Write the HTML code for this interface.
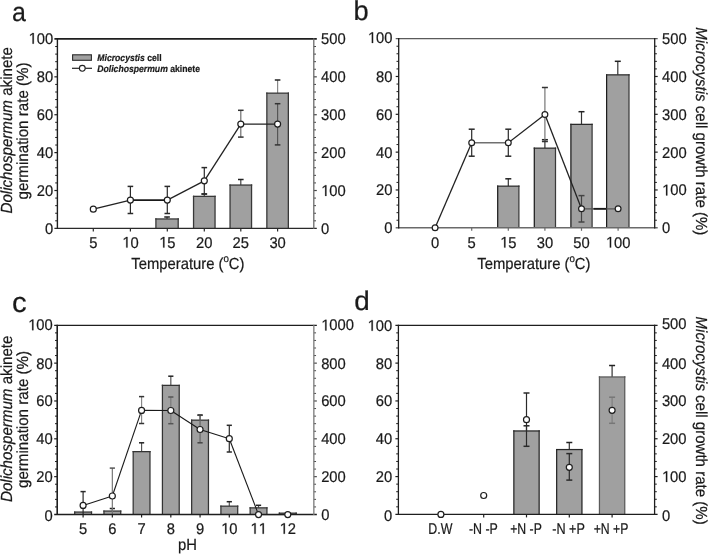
<!DOCTYPE html>
<html><head><meta charset="utf-8"><style>html,body{margin:0;padding:0;background:#fff;}svg{display:block;will-change:transform;text-rendering:geometricPrecision;}text{stroke:#1a1a1a;stroke-width:0.22px;paint-order:fill;}.h{fill-opacity:0;stroke-opacity:0;}</style></head><body>
<svg width="708" height="554" viewBox="0 0 708 554" font-family="Liberation Sans, sans-serif" fill="#1a1a1a">
<rect width="708" height="554" fill="#fff"/>
<line x1="55.2" y1="220.82" x2="57.4" y2="220.82" stroke="#1e1e1e" stroke-width="1.0"/>
<line x1="313.8" y1="220.82" x2="316" y2="220.82" stroke="#444" stroke-width="1.0"/>
<line x1="55.2" y1="213.24" x2="57.4" y2="213.24" stroke="#1e1e1e" stroke-width="1.0"/>
<line x1="313.8" y1="213.24" x2="316" y2="213.24" stroke="#444" stroke-width="1.0"/>
<line x1="55.2" y1="205.67" x2="57.4" y2="205.67" stroke="#1e1e1e" stroke-width="1.0"/>
<line x1="313.8" y1="205.67" x2="316" y2="205.67" stroke="#444" stroke-width="1.0"/>
<line x1="55.2" y1="198.09" x2="57.4" y2="198.09" stroke="#1e1e1e" stroke-width="1.0"/>
<line x1="313.8" y1="198.09" x2="316" y2="198.09" stroke="#444" stroke-width="1.0"/>
<line x1="54.4" y1="190.51" x2="57.4" y2="190.51" stroke="#1e1e1e" stroke-width="1.2"/>
<line x1="313.8" y1="190.51" x2="316.8" y2="190.51" stroke="#444" stroke-width="1.2"/>
<line x1="55.2" y1="182.93" x2="57.4" y2="182.93" stroke="#1e1e1e" stroke-width="1.0"/>
<line x1="313.8" y1="182.93" x2="316" y2="182.93" stroke="#444" stroke-width="1.0"/>
<line x1="55.2" y1="175.35" x2="57.4" y2="175.35" stroke="#1e1e1e" stroke-width="1.0"/>
<line x1="313.8" y1="175.35" x2="316" y2="175.35" stroke="#444" stroke-width="1.0"/>
<line x1="55.2" y1="167.78" x2="57.4" y2="167.78" stroke="#1e1e1e" stroke-width="1.0"/>
<line x1="313.8" y1="167.78" x2="316" y2="167.78" stroke="#444" stroke-width="1.0"/>
<line x1="55.2" y1="160.2" x2="57.4" y2="160.2" stroke="#1e1e1e" stroke-width="1.0"/>
<line x1="313.8" y1="160.2" x2="316" y2="160.2" stroke="#444" stroke-width="1.0"/>
<line x1="54.4" y1="152.62" x2="57.4" y2="152.62" stroke="#1e1e1e" stroke-width="1.2"/>
<line x1="313.8" y1="152.62" x2="316.8" y2="152.62" stroke="#444" stroke-width="1.2"/>
<line x1="55.2" y1="145.04" x2="57.4" y2="145.04" stroke="#1e1e1e" stroke-width="1.0"/>
<line x1="313.8" y1="145.04" x2="316" y2="145.04" stroke="#444" stroke-width="1.0"/>
<line x1="55.2" y1="137.46" x2="57.4" y2="137.46" stroke="#1e1e1e" stroke-width="1.0"/>
<line x1="313.8" y1="137.46" x2="316" y2="137.46" stroke="#444" stroke-width="1.0"/>
<line x1="55.2" y1="129.89" x2="57.4" y2="129.89" stroke="#1e1e1e" stroke-width="1.0"/>
<line x1="313.8" y1="129.89" x2="316" y2="129.89" stroke="#444" stroke-width="1.0"/>
<line x1="55.2" y1="122.31" x2="57.4" y2="122.31" stroke="#1e1e1e" stroke-width="1.0"/>
<line x1="313.8" y1="122.31" x2="316" y2="122.31" stroke="#444" stroke-width="1.0"/>
<line x1="54.4" y1="114.73" x2="57.4" y2="114.73" stroke="#1e1e1e" stroke-width="1.2"/>
<line x1="313.8" y1="114.73" x2="316.8" y2="114.73" stroke="#444" stroke-width="1.2"/>
<line x1="55.2" y1="107.15" x2="57.4" y2="107.15" stroke="#1e1e1e" stroke-width="1.0"/>
<line x1="313.8" y1="107.15" x2="316" y2="107.15" stroke="#444" stroke-width="1.0"/>
<line x1="55.2" y1="99.57" x2="57.4" y2="99.57" stroke="#1e1e1e" stroke-width="1.0"/>
<line x1="313.8" y1="99.57" x2="316" y2="99.57" stroke="#444" stroke-width="1.0"/>
<line x1="55.2" y1="92" x2="57.4" y2="92" stroke="#1e1e1e" stroke-width="1.0"/>
<line x1="313.8" y1="92" x2="316" y2="92" stroke="#444" stroke-width="1.0"/>
<line x1="55.2" y1="84.42" x2="57.4" y2="84.42" stroke="#1e1e1e" stroke-width="1.0"/>
<line x1="313.8" y1="84.42" x2="316" y2="84.42" stroke="#444" stroke-width="1.0"/>
<line x1="54.4" y1="76.84" x2="57.4" y2="76.84" stroke="#1e1e1e" stroke-width="1.2"/>
<line x1="313.8" y1="76.84" x2="316.8" y2="76.84" stroke="#444" stroke-width="1.2"/>
<line x1="55.2" y1="69.26" x2="57.4" y2="69.26" stroke="#1e1e1e" stroke-width="1.0"/>
<line x1="313.8" y1="69.26" x2="316" y2="69.26" stroke="#444" stroke-width="1.0"/>
<line x1="55.2" y1="61.68" x2="57.4" y2="61.68" stroke="#1e1e1e" stroke-width="1.0"/>
<line x1="313.8" y1="61.68" x2="316" y2="61.68" stroke="#444" stroke-width="1.0"/>
<line x1="55.2" y1="54.11" x2="57.4" y2="54.11" stroke="#1e1e1e" stroke-width="1.0"/>
<line x1="313.8" y1="54.11" x2="316" y2="54.11" stroke="#444" stroke-width="1.0"/>
<line x1="55.2" y1="46.53" x2="57.4" y2="46.53" stroke="#1e1e1e" stroke-width="1.0"/>
<line x1="313.8" y1="46.53" x2="316" y2="46.53" stroke="#444" stroke-width="1.0"/>
<line x1="167.05" y1="217" x2="167.05" y2="218.95" stroke="#444" stroke-width="1.2"/>
<line x1="164.25" y1="217" x2="169.85" y2="217" stroke="#222" stroke-width="1.5"/>
<rect x="155.9" y="218.95" width="22.3" height="9.45" fill="#a0a0a0"/>
<line x1="155.9" y1="218.3" x2="155.9" y2="228.4" stroke="#383838" stroke-width="1.3"/>
<line x1="178.2" y1="218.3" x2="178.2" y2="228.4" stroke="#383838" stroke-width="1.3"/>
<line x1="155.25" y1="218.95" x2="178.85" y2="218.95" stroke="#383838" stroke-width="1.3"/>
<line x1="204.3" y1="194" x2="204.3" y2="196.35" stroke="#444" stroke-width="1.2"/>
<line x1="201.5" y1="194" x2="207.1" y2="194" stroke="#222" stroke-width="1.5"/>
<rect x="193.55" y="196.35" width="21.5" height="32.05" fill="#a0a0a0"/>
<line x1="193.55" y1="195.7" x2="193.55" y2="228.4" stroke="#383838" stroke-width="1.3"/>
<line x1="215.05" y1="195.7" x2="215.05" y2="228.4" stroke="#383838" stroke-width="1.3"/>
<line x1="192.9" y1="196.35" x2="215.7" y2="196.35" stroke="#383838" stroke-width="1.3"/>
<line x1="240.8" y1="179.5" x2="240.8" y2="185.05" stroke="#444" stroke-width="1.2"/>
<line x1="238" y1="179.5" x2="243.6" y2="179.5" stroke="#222" stroke-width="1.5"/>
<rect x="230.05" y="185.05" width="21.5" height="43.35" fill="#a0a0a0"/>
<line x1="230.05" y1="184.4" x2="230.05" y2="228.4" stroke="#383838" stroke-width="1.3"/>
<line x1="251.55" y1="184.4" x2="251.55" y2="228.4" stroke="#383838" stroke-width="1.3"/>
<line x1="229.4" y1="185.05" x2="252.2" y2="185.05" stroke="#383838" stroke-width="1.3"/>
<line x1="277.6" y1="80" x2="277.6" y2="93.15" stroke="#888" stroke-width="1.2"/>
<line x1="274.8" y1="80" x2="280.4" y2="80" stroke="#222" stroke-width="1.5"/>
<rect x="266.85" y="93.15" width="21.5" height="135.25" fill="#a0a0a0"/>
<line x1="266.85" y1="92.5" x2="266.85" y2="228.4" stroke="#383838" stroke-width="1.3"/>
<line x1="288.35" y1="92.5" x2="288.35" y2="228.4" stroke="#383838" stroke-width="1.3"/>
<line x1="266.2" y1="93.15" x2="289" y2="93.15" stroke="#383838" stroke-width="1.3"/>
<line x1="130.4" y1="186.4" x2="130.4" y2="200.1" stroke="#2a2a2a" stroke-width="1.2"/>
<line x1="127.6" y1="186.4" x2="133.2" y2="186.4" stroke="#2a2a2a" stroke-width="1.5"/>
<line x1="130.4" y1="200.1" x2="130.4" y2="213.5" stroke="#2a2a2a" stroke-width="1.2"/>
<line x1="127.6" y1="213.5" x2="133.2" y2="213.5" stroke="#2a2a2a" stroke-width="1.5"/>
<line x1="167.3" y1="186.4" x2="167.3" y2="200.1" stroke="#2a2a2a" stroke-width="1.2"/>
<line x1="164.5" y1="186.4" x2="170.1" y2="186.4" stroke="#2a2a2a" stroke-width="1.5"/>
<line x1="167.3" y1="200.1" x2="167.3" y2="213.5" stroke="#2a2a2a" stroke-width="1.2"/>
<line x1="164.5" y1="213.5" x2="170.1" y2="213.5" stroke="#2a2a2a" stroke-width="1.5"/>
<line x1="204.3" y1="167.6" x2="204.3" y2="180.8" stroke="#2a2a2a" stroke-width="1.2"/>
<line x1="201.5" y1="167.6" x2="207.1" y2="167.6" stroke="#2a2a2a" stroke-width="1.5"/>
<line x1="204.3" y1="180.8" x2="204.3" y2="194" stroke="#2a2a2a" stroke-width="1.2"/>
<line x1="201.5" y1="194" x2="207.1" y2="194" stroke="#2a2a2a" stroke-width="1.5"/>
<line x1="240.8" y1="110.3" x2="240.8" y2="124.1" stroke="#6e6e6e" stroke-width="1.2"/>
<line x1="238" y1="110.3" x2="243.6" y2="110.3" stroke="#333" stroke-width="1.5"/>
<line x1="240.8" y1="124.1" x2="240.8" y2="137.1" stroke="#6e6e6e" stroke-width="1.2"/>
<line x1="238" y1="137.1" x2="243.6" y2="137.1" stroke="#333" stroke-width="1.5"/>
<line x1="277.6" y1="103.7" x2="277.6" y2="124.1" stroke="#555" stroke-width="1.2"/>
<line x1="274.8" y1="103.7" x2="280.4" y2="103.7" stroke="#333" stroke-width="1.5"/>
<line x1="277.6" y1="124.1" x2="277.6" y2="144.9" stroke="#555" stroke-width="1.2"/>
<line x1="274.8" y1="144.9" x2="280.4" y2="144.9" stroke="#333" stroke-width="1.5"/>
<line x1="93.3" y1="209.2" x2="130.4" y2="200.1" stroke="#222" stroke-width="1.3"/>
<line x1="130.4" y1="200.1" x2="167.3" y2="200.1" stroke="#1a1a1a" stroke-width="1.6"/>
<line x1="167.3" y1="200.1" x2="204.3" y2="180.8" stroke="#222" stroke-width="1.3"/>
<line x1="204.3" y1="180.8" x2="240.8" y2="124.1" stroke="#222" stroke-width="1.3"/>
<line x1="240.8" y1="124.1" x2="277.6" y2="124.1" stroke="#222" stroke-width="1.3"/>
<line x1="54.4" y1="38.95" x2="316.8" y2="38.95" stroke="#1e1e1e" stroke-width="1.8"/>
<line x1="54.4" y1="228.4" x2="316.8" y2="228.4" stroke="#2a2a2a" stroke-width="1.4"/>
<line x1="57.4" y1="38.35" x2="57.4" y2="229" stroke="#1e1e1e" stroke-width="1.4"/>
<line x1="313.8" y1="38.35" x2="313.8" y2="229" stroke="#6a6a6a" stroke-width="1.3"/>
<line x1="93.3" y1="228.4" x2="93.3" y2="231.4" stroke="#2a2a2a" stroke-width="1.2"/>
<line x1="130.4" y1="228.4" x2="130.4" y2="231.4" stroke="#2a2a2a" stroke-width="1.2"/>
<line x1="167.3" y1="228.4" x2="167.3" y2="231.4" stroke="#2a2a2a" stroke-width="1.2"/>
<line x1="204.3" y1="228.4" x2="204.3" y2="231.4" stroke="#2a2a2a" stroke-width="1.2"/>
<line x1="240.8" y1="228.4" x2="240.8" y2="231.4" stroke="#2a2a2a" stroke-width="1.2"/>
<line x1="277.6" y1="228.4" x2="277.6" y2="231.4" stroke="#2a2a2a" stroke-width="1.2"/>
<circle cx="93.3" cy="209.2" r="3.0" fill="#fff" stroke="#1e1e1e" stroke-width="1.2"/>
<circle cx="130.4" cy="200.1" r="3.0" fill="#fff" stroke="#1e1e1e" stroke-width="1.2"/>
<circle cx="167.3" cy="200.1" r="3.0" fill="#fff" stroke="#1e1e1e" stroke-width="1.2"/>
<circle cx="204.3" cy="180.8" r="3.0" fill="#fff" stroke="#1e1e1e" stroke-width="1.2"/>
<circle cx="240.8" cy="124.1" r="3.0" fill="#fff" stroke="#1e1e1e" stroke-width="1.2"/>
<circle cx="277.6" cy="124.1" r="3.0" fill="#fff" stroke="#1e1e1e" stroke-width="1.2"/>
<text transform="translate(53.1,233.83) scale(0.952,1)" font-size="15.5" text-anchor="end" >0</text>
<text transform="translate(321.1,233.83) scale(0.952,1)" font-size="15.5" text-anchor="start" >0</text>
<text transform="translate(53.1,195.94) scale(0.952,1)" font-size="15.5" text-anchor="end" >20</text>
<text transform="translate(321.1,195.94) scale(0.952,1)" font-size="15.5"><tspan class="h">1</tspan>00</text>
<path d="M560,0L560,1237L223,1010L223,1180L575,1409L741,1409L741,0Z" stroke="#1a1a1a" stroke-width="29.1" transform="translate(321.1,195.94) scale(0.007205,-0.007568)"/>
<text transform="translate(53.1,158.05) scale(0.952,1)" font-size="15.5" text-anchor="end" >40</text>
<text transform="translate(321.1,158.05) scale(0.952,1)" font-size="15.5" text-anchor="start" >200</text>
<text transform="translate(53.1,120.16) scale(0.952,1)" font-size="15.5" text-anchor="end" >60</text>
<text transform="translate(321.1,120.16) scale(0.952,1)" font-size="15.5" text-anchor="start" >300</text>
<text transform="translate(53.1,82.27) scale(0.952,1)" font-size="15.5" text-anchor="end" >80</text>
<text transform="translate(321.1,82.27) scale(0.952,1)" font-size="15.5" text-anchor="start" >400</text>
<text transform="translate(28.48,43.68) scale(0.952,1)" font-size="15.5"><tspan class="h">1</tspan>00</text>
<path d="M560,0L560,1237L223,1010L223,1180L575,1409L741,1409L741,0Z" stroke="#1a1a1a" stroke-width="29.1" transform="translate(28.48,43.68) scale(0.007205,-0.007568)"/>
<text transform="translate(321.1,43.68) scale(0.952,1)" font-size="15.5" text-anchor="start" >500</text>
<text transform="translate(93.3,247.6) scale(0.952,1)" font-size="15.5" text-anchor="middle" >5</text>
<text transform="translate(122.19,247.6) scale(0.952,1)" font-size="15.5"><tspan class="h">1</tspan>0</text>
<path d="M560,0L560,1237L223,1010L223,1180L575,1409L741,1409L741,0Z" stroke="#1a1a1a" stroke-width="29.1" transform="translate(122.19,247.6) scale(0.007205,-0.007568)"/>
<text transform="translate(159.09,247.6) scale(0.952,1)" font-size="15.5"><tspan class="h">1</tspan>5</text>
<path d="M560,0L560,1237L223,1010L223,1180L575,1409L741,1409L741,0Z" stroke="#1a1a1a" stroke-width="29.1" transform="translate(159.09,247.6) scale(0.007205,-0.007568)"/>
<text transform="translate(204.3,247.6) scale(0.952,1)" font-size="15.5" text-anchor="middle" >20</text>
<text transform="translate(240.8,247.6) scale(0.952,1)" font-size="15.5" text-anchor="middle" >25</text>
<text transform="translate(277.6,247.6) scale(0.952,1)" font-size="15.5" text-anchor="middle" >30</text>
<line x1="396.5" y1="220.23" x2="398.7" y2="220.23" stroke="#1e1e1e" stroke-width="1.0"/>
<line x1="654.7" y1="220.23" x2="656.9" y2="220.23" stroke="#1e1e1e" stroke-width="1.0"/>
<line x1="396.5" y1="212.67" x2="398.7" y2="212.67" stroke="#1e1e1e" stroke-width="1.0"/>
<line x1="654.7" y1="212.67" x2="656.9" y2="212.67" stroke="#1e1e1e" stroke-width="1.0"/>
<line x1="396.5" y1="205.1" x2="398.7" y2="205.1" stroke="#1e1e1e" stroke-width="1.0"/>
<line x1="654.7" y1="205.1" x2="656.9" y2="205.1" stroke="#1e1e1e" stroke-width="1.0"/>
<line x1="396.5" y1="197.54" x2="398.7" y2="197.54" stroke="#1e1e1e" stroke-width="1.0"/>
<line x1="654.7" y1="197.54" x2="656.9" y2="197.54" stroke="#1e1e1e" stroke-width="1.0"/>
<line x1="395.7" y1="189.97" x2="398.7" y2="189.97" stroke="#1e1e1e" stroke-width="1.2"/>
<line x1="654.7" y1="189.97" x2="657.7" y2="189.97" stroke="#1e1e1e" stroke-width="1.2"/>
<line x1="396.5" y1="182.4" x2="398.7" y2="182.4" stroke="#1e1e1e" stroke-width="1.0"/>
<line x1="654.7" y1="182.4" x2="656.9" y2="182.4" stroke="#1e1e1e" stroke-width="1.0"/>
<line x1="396.5" y1="174.84" x2="398.7" y2="174.84" stroke="#1e1e1e" stroke-width="1.0"/>
<line x1="654.7" y1="174.84" x2="656.9" y2="174.84" stroke="#1e1e1e" stroke-width="1.0"/>
<line x1="396.5" y1="167.27" x2="398.7" y2="167.27" stroke="#1e1e1e" stroke-width="1.0"/>
<line x1="654.7" y1="167.27" x2="656.9" y2="167.27" stroke="#1e1e1e" stroke-width="1.0"/>
<line x1="396.5" y1="159.71" x2="398.7" y2="159.71" stroke="#1e1e1e" stroke-width="1.0"/>
<line x1="654.7" y1="159.71" x2="656.9" y2="159.71" stroke="#1e1e1e" stroke-width="1.0"/>
<line x1="395.7" y1="152.14" x2="398.7" y2="152.14" stroke="#1e1e1e" stroke-width="1.2"/>
<line x1="654.7" y1="152.14" x2="657.7" y2="152.14" stroke="#1e1e1e" stroke-width="1.2"/>
<line x1="396.5" y1="144.57" x2="398.7" y2="144.57" stroke="#1e1e1e" stroke-width="1.0"/>
<line x1="654.7" y1="144.57" x2="656.9" y2="144.57" stroke="#1e1e1e" stroke-width="1.0"/>
<line x1="396.5" y1="137.01" x2="398.7" y2="137.01" stroke="#1e1e1e" stroke-width="1.0"/>
<line x1="654.7" y1="137.01" x2="656.9" y2="137.01" stroke="#1e1e1e" stroke-width="1.0"/>
<line x1="396.5" y1="129.44" x2="398.7" y2="129.44" stroke="#1e1e1e" stroke-width="1.0"/>
<line x1="654.7" y1="129.44" x2="656.9" y2="129.44" stroke="#1e1e1e" stroke-width="1.0"/>
<line x1="396.5" y1="121.88" x2="398.7" y2="121.88" stroke="#1e1e1e" stroke-width="1.0"/>
<line x1="654.7" y1="121.88" x2="656.9" y2="121.88" stroke="#1e1e1e" stroke-width="1.0"/>
<line x1="395.7" y1="114.31" x2="398.7" y2="114.31" stroke="#1e1e1e" stroke-width="1.2"/>
<line x1="654.7" y1="114.31" x2="657.7" y2="114.31" stroke="#1e1e1e" stroke-width="1.2"/>
<line x1="396.5" y1="106.74" x2="398.7" y2="106.74" stroke="#1e1e1e" stroke-width="1.0"/>
<line x1="654.7" y1="106.74" x2="656.9" y2="106.74" stroke="#1e1e1e" stroke-width="1.0"/>
<line x1="396.5" y1="99.18" x2="398.7" y2="99.18" stroke="#1e1e1e" stroke-width="1.0"/>
<line x1="654.7" y1="99.18" x2="656.9" y2="99.18" stroke="#1e1e1e" stroke-width="1.0"/>
<line x1="396.5" y1="91.61" x2="398.7" y2="91.61" stroke="#1e1e1e" stroke-width="1.0"/>
<line x1="654.7" y1="91.61" x2="656.9" y2="91.61" stroke="#1e1e1e" stroke-width="1.0"/>
<line x1="396.5" y1="84.05" x2="398.7" y2="84.05" stroke="#1e1e1e" stroke-width="1.0"/>
<line x1="654.7" y1="84.05" x2="656.9" y2="84.05" stroke="#1e1e1e" stroke-width="1.0"/>
<line x1="395.7" y1="76.48" x2="398.7" y2="76.48" stroke="#1e1e1e" stroke-width="1.2"/>
<line x1="654.7" y1="76.48" x2="657.7" y2="76.48" stroke="#1e1e1e" stroke-width="1.2"/>
<line x1="396.5" y1="68.91" x2="398.7" y2="68.91" stroke="#1e1e1e" stroke-width="1.0"/>
<line x1="654.7" y1="68.91" x2="656.9" y2="68.91" stroke="#1e1e1e" stroke-width="1.0"/>
<line x1="396.5" y1="61.35" x2="398.7" y2="61.35" stroke="#1e1e1e" stroke-width="1.0"/>
<line x1="654.7" y1="61.35" x2="656.9" y2="61.35" stroke="#1e1e1e" stroke-width="1.0"/>
<line x1="396.5" y1="53.78" x2="398.7" y2="53.78" stroke="#1e1e1e" stroke-width="1.0"/>
<line x1="654.7" y1="53.78" x2="656.9" y2="53.78" stroke="#1e1e1e" stroke-width="1.0"/>
<line x1="396.5" y1="46.22" x2="398.7" y2="46.22" stroke="#1e1e1e" stroke-width="1.0"/>
<line x1="654.7" y1="46.22" x2="656.9" y2="46.22" stroke="#1e1e1e" stroke-width="1.0"/>
<line x1="508.3" y1="178.8" x2="508.3" y2="186.15" stroke="#333" stroke-width="1.2"/>
<line x1="505.3" y1="178.8" x2="511.3" y2="178.8" stroke="#222" stroke-width="1.5"/>
<rect x="497.7" y="186.15" width="21.2" height="41.65" fill="#a0a0a0"/>
<line x1="497.7" y1="185.53" x2="497.7" y2="227.8" stroke="#1c1c1c" stroke-width="1.25"/>
<line x1="518.9" y1="185.53" x2="518.9" y2="227.8" stroke="#3a3a3a" stroke-width="1.25"/>
<line x1="497.07" y1="186.15" x2="519.52" y2="186.15" stroke="#2a2a2a" stroke-width="1.25"/>
<line x1="544.9" y1="139.7" x2="544.9" y2="148.15" stroke="#333" stroke-width="1.2"/>
<line x1="541.9" y1="139.7" x2="547.9" y2="139.7" stroke="#222" stroke-width="1.5"/>
<rect x="534.3" y="148.15" width="21.2" height="79.65" fill="#a0a0a0"/>
<line x1="534.3" y1="147.53" x2="534.3" y2="227.8" stroke="#1c1c1c" stroke-width="1.25"/>
<line x1="555.5" y1="147.53" x2="555.5" y2="227.8" stroke="#3a3a3a" stroke-width="1.25"/>
<line x1="533.68" y1="148.15" x2="556.13" y2="148.15" stroke="#2a2a2a" stroke-width="1.25"/>
<line x1="581.5" y1="111.7" x2="581.5" y2="124.35" stroke="#333" stroke-width="1.2"/>
<line x1="578.5" y1="111.7" x2="584.5" y2="111.7" stroke="#222" stroke-width="1.5"/>
<rect x="570.9" y="124.35" width="21.2" height="103.45" fill="#a0a0a0"/>
<line x1="570.9" y1="123.73" x2="570.9" y2="227.8" stroke="#1c1c1c" stroke-width="1.25"/>
<line x1="592.1" y1="123.73" x2="592.1" y2="227.8" stroke="#3a3a3a" stroke-width="1.25"/>
<line x1="570.27" y1="124.35" x2="592.73" y2="124.35" stroke="#2a2a2a" stroke-width="1.25"/>
<line x1="617.8" y1="61.3" x2="617.8" y2="74.85" stroke="#333" stroke-width="1.2"/>
<line x1="614.8" y1="61.3" x2="620.8" y2="61.3" stroke="#222" stroke-width="1.5"/>
<rect x="606.6" y="74.85" width="22.4" height="152.95" fill="#a0a0a0"/>
<line x1="606.6" y1="74.23" x2="606.6" y2="227.8" stroke="#1c1c1c" stroke-width="1.25"/>
<line x1="629" y1="74.23" x2="629" y2="227.8" stroke="#3a3a3a" stroke-width="1.25"/>
<line x1="605.97" y1="74.85" x2="629.62" y2="74.85" stroke="#2a2a2a" stroke-width="1.25"/>
<line x1="471.7" y1="129.2" x2="471.7" y2="142.8" stroke="#2a2a2a" stroke-width="1.2"/>
<line x1="468.7" y1="129.2" x2="474.7" y2="129.2" stroke="#2a2a2a" stroke-width="1.5"/>
<line x1="471.7" y1="142.8" x2="471.7" y2="156.2" stroke="#2a2a2a" stroke-width="1.2"/>
<line x1="468.7" y1="156.2" x2="474.7" y2="156.2" stroke="#2a2a2a" stroke-width="1.5"/>
<line x1="508.3" y1="129.2" x2="508.3" y2="142.8" stroke="#2a2a2a" stroke-width="1.2"/>
<line x1="505.3" y1="129.2" x2="511.3" y2="129.2" stroke="#2a2a2a" stroke-width="1.5"/>
<line x1="508.3" y1="142.8" x2="508.3" y2="156.2" stroke="#2a2a2a" stroke-width="1.2"/>
<line x1="505.3" y1="156.2" x2="511.3" y2="156.2" stroke="#2a2a2a" stroke-width="1.5"/>
<line x1="544.9" y1="87.5" x2="544.9" y2="114.5" stroke="#777" stroke-width="1.2"/>
<line x1="541.9" y1="87.5" x2="547.9" y2="87.5" stroke="#333" stroke-width="1.5"/>
<line x1="544.9" y1="114.5" x2="544.9" y2="141.5" stroke="#777" stroke-width="1.2"/>
<line x1="541.9" y1="141.5" x2="547.9" y2="141.5" stroke="#333" stroke-width="1.5"/>
<line x1="581.5" y1="195.6" x2="581.5" y2="208.8" stroke="#444" stroke-width="1.2"/>
<line x1="578.5" y1="195.6" x2="584.5" y2="195.6" stroke="#444" stroke-width="1.5"/>
<line x1="581.5" y1="208.8" x2="581.5" y2="222" stroke="#444" stroke-width="1.2"/>
<line x1="578.5" y1="222" x2="584.5" y2="222" stroke="#444" stroke-width="1.5"/>
<line x1="435.1" y1="227.8" x2="471.7" y2="142.8" stroke="#222" stroke-width="1.3"/>
<line x1="471.7" y1="142.8" x2="508.3" y2="142.8" stroke="#707070" stroke-width="1.4"/>
<line x1="508.3" y1="142.8" x2="544.9" y2="114.5" stroke="#222" stroke-width="1.3"/>
<line x1="544.9" y1="114.5" x2="581.5" y2="208.8" stroke="#222" stroke-width="1.3"/>
<line x1="581.5" y1="208.8" x2="618.1" y2="208.8" stroke="#555" stroke-width="1.3"/>
<line x1="593.5" y1="208.8" x2="606.3" y2="208.8" stroke="#1a1a1a" stroke-width="1.8"/>
<line x1="395.7" y1="38.65" x2="657.7" y2="38.65" stroke="#5a5a5a" stroke-width="1.3"/>
<line x1="395.7" y1="227.8" x2="657.7" y2="227.8" stroke="#6a6a6a" stroke-width="1.6"/>
<line x1="398.7" y1="38.05" x2="398.7" y2="228.4" stroke="#1e1e1e" stroke-width="1.3"/>
<line x1="654.7" y1="38.05" x2="654.7" y2="228.4" stroke="#1e1e1e" stroke-width="1.3"/>
<line x1="435.1" y1="227.8" x2="435.1" y2="230.8" stroke="#6a6a6a" stroke-width="1.2"/>
<line x1="471.7" y1="227.8" x2="471.7" y2="230.8" stroke="#6a6a6a" stroke-width="1.2"/>
<line x1="508.3" y1="227.8" x2="508.3" y2="230.8" stroke="#6a6a6a" stroke-width="1.2"/>
<line x1="544.9" y1="227.8" x2="544.9" y2="230.8" stroke="#6a6a6a" stroke-width="1.2"/>
<line x1="581.5" y1="227.8" x2="581.5" y2="230.8" stroke="#6a6a6a" stroke-width="1.2"/>
<line x1="618.1" y1="227.8" x2="618.1" y2="230.8" stroke="#6a6a6a" stroke-width="1.2"/>
<circle cx="435.1" cy="227.8" r="2.9" fill="#fff" stroke="#1e1e1e" stroke-width="1.2"/>
<circle cx="471.7" cy="142.8" r="2.9" fill="#fff" stroke="#1e1e1e" stroke-width="1.2"/>
<circle cx="508.3" cy="142.8" r="2.9" fill="#fff" stroke="#1e1e1e" stroke-width="1.2"/>
<circle cx="544.9" cy="114.5" r="2.9" fill="#fff" stroke="#1e1e1e" stroke-width="1.2"/>
<circle cx="581.5" cy="208.8" r="2.9" fill="#fff" stroke="#1e1e1e" stroke-width="1.2"/>
<circle cx="618.1" cy="208.8" r="2.9" fill="#fff" stroke="#1e1e1e" stroke-width="1.2"/>
<text transform="translate(392.4,233.23) scale(0.952,1)" font-size="15.5" text-anchor="end" >0</text>
<text transform="translate(662,233.23) scale(0.952,1)" font-size="15.5" text-anchor="start" >0</text>
<text transform="translate(392.4,195.4) scale(0.952,1)" font-size="15.5" text-anchor="end" >20</text>
<text transform="translate(662,195.4) scale(0.952,1)" font-size="15.5"><tspan class="h">1</tspan>00</text>
<path d="M560,0L560,1237L223,1010L223,1180L575,1409L741,1409L741,0Z" stroke="#1a1a1a" stroke-width="29.1" transform="translate(662,195.4) scale(0.007205,-0.007568)"/>
<text transform="translate(392.4,157.56) scale(0.952,1)" font-size="15.5" text-anchor="end" >40</text>
<text transform="translate(662,157.56) scale(0.952,1)" font-size="15.5" text-anchor="start" >200</text>
<text transform="translate(392.4,119.74) scale(0.952,1)" font-size="15.5" text-anchor="end" >60</text>
<text transform="translate(662,119.74) scale(0.952,1)" font-size="15.5" text-anchor="start" >300</text>
<text transform="translate(392.4,81.9) scale(0.952,1)" font-size="15.5" text-anchor="end" >80</text>
<text transform="translate(662,81.9) scale(0.952,1)" font-size="15.5" text-anchor="start" >400</text>
<text transform="translate(367.78,42.98) scale(0.952,1)" font-size="15.5"><tspan class="h">1</tspan>00</text>
<path d="M560,0L560,1237L223,1010L223,1180L575,1409L741,1409L741,0Z" stroke="#1a1a1a" stroke-width="29.1" transform="translate(367.78,42.98) scale(0.007205,-0.007568)"/>
<text transform="translate(662,43.68) scale(0.952,1)" font-size="15.5" text-anchor="start" >500</text>
<text transform="translate(435.1,247.6) scale(0.952,1)" font-size="15.5" text-anchor="middle" >0</text>
<text transform="translate(471.7,247.6) scale(0.952,1)" font-size="15.5" text-anchor="middle" >5</text>
<text transform="translate(500.09,247.6) scale(0.952,1)" font-size="15.5"><tspan class="h">1</tspan>5</text>
<path d="M560,0L560,1237L223,1010L223,1180L575,1409L741,1409L741,0Z" stroke="#1a1a1a" stroke-width="29.1" transform="translate(500.09,247.6) scale(0.007205,-0.007568)"/>
<text transform="translate(544.9,247.6) scale(0.952,1)" font-size="15.5" text-anchor="middle" >30</text>
<text transform="translate(581.5,247.6) scale(0.952,1)" font-size="15.5" text-anchor="middle" >50</text>
<text transform="translate(605.79,247.6) scale(0.952,1)" font-size="15.5"><tspan class="h">1</tspan>00</text>
<path d="M560,0L560,1237L223,1010L223,1180L575,1409L741,1409L741,0Z" stroke="#1a1a1a" stroke-width="29.1" transform="translate(605.79,247.6) scale(0.007205,-0.007568)"/>
<line x1="55" y1="506.93" x2="57.2" y2="506.93" stroke="#1e1e1e" stroke-width="1.0"/>
<line x1="313.85" y1="506.93" x2="316.05" y2="506.93" stroke="#4a4a4a" stroke-width="1.0"/>
<line x1="55" y1="499.36" x2="57.2" y2="499.36" stroke="#1e1e1e" stroke-width="1.0"/>
<line x1="313.85" y1="499.36" x2="316.05" y2="499.36" stroke="#4a4a4a" stroke-width="1.0"/>
<line x1="55" y1="491.8" x2="57.2" y2="491.8" stroke="#1e1e1e" stroke-width="1.0"/>
<line x1="313.85" y1="491.8" x2="316.05" y2="491.8" stroke="#4a4a4a" stroke-width="1.0"/>
<line x1="55" y1="484.23" x2="57.2" y2="484.23" stroke="#1e1e1e" stroke-width="1.0"/>
<line x1="313.85" y1="484.23" x2="316.05" y2="484.23" stroke="#4a4a4a" stroke-width="1.0"/>
<line x1="54.2" y1="476.66" x2="57.2" y2="476.66" stroke="#1e1e1e" stroke-width="1.2"/>
<line x1="313.85" y1="476.66" x2="316.85" y2="476.66" stroke="#4a4a4a" stroke-width="1.2"/>
<line x1="55" y1="469.09" x2="57.2" y2="469.09" stroke="#1e1e1e" stroke-width="1.0"/>
<line x1="313.85" y1="469.09" x2="316.05" y2="469.09" stroke="#4a4a4a" stroke-width="1.0"/>
<line x1="55" y1="461.52" x2="57.2" y2="461.52" stroke="#1e1e1e" stroke-width="1.0"/>
<line x1="313.85" y1="461.52" x2="316.05" y2="461.52" stroke="#4a4a4a" stroke-width="1.0"/>
<line x1="55" y1="453.96" x2="57.2" y2="453.96" stroke="#1e1e1e" stroke-width="1.0"/>
<line x1="313.85" y1="453.96" x2="316.05" y2="453.96" stroke="#4a4a4a" stroke-width="1.0"/>
<line x1="55" y1="446.39" x2="57.2" y2="446.39" stroke="#1e1e1e" stroke-width="1.0"/>
<line x1="313.85" y1="446.39" x2="316.05" y2="446.39" stroke="#4a4a4a" stroke-width="1.0"/>
<line x1="54.2" y1="438.82" x2="57.2" y2="438.82" stroke="#1e1e1e" stroke-width="1.2"/>
<line x1="313.85" y1="438.82" x2="316.85" y2="438.82" stroke="#4a4a4a" stroke-width="1.2"/>
<line x1="55" y1="431.25" x2="57.2" y2="431.25" stroke="#1e1e1e" stroke-width="1.0"/>
<line x1="313.85" y1="431.25" x2="316.05" y2="431.25" stroke="#4a4a4a" stroke-width="1.0"/>
<line x1="55" y1="423.68" x2="57.2" y2="423.68" stroke="#1e1e1e" stroke-width="1.0"/>
<line x1="313.85" y1="423.68" x2="316.05" y2="423.68" stroke="#4a4a4a" stroke-width="1.0"/>
<line x1="55" y1="416.12" x2="57.2" y2="416.12" stroke="#1e1e1e" stroke-width="1.0"/>
<line x1="313.85" y1="416.12" x2="316.05" y2="416.12" stroke="#4a4a4a" stroke-width="1.0"/>
<line x1="55" y1="408.55" x2="57.2" y2="408.55" stroke="#1e1e1e" stroke-width="1.0"/>
<line x1="313.85" y1="408.55" x2="316.05" y2="408.55" stroke="#4a4a4a" stroke-width="1.0"/>
<line x1="54.2" y1="400.98" x2="57.2" y2="400.98" stroke="#1e1e1e" stroke-width="1.2"/>
<line x1="313.85" y1="400.98" x2="316.85" y2="400.98" stroke="#4a4a4a" stroke-width="1.2"/>
<line x1="55" y1="393.41" x2="57.2" y2="393.41" stroke="#1e1e1e" stroke-width="1.0"/>
<line x1="313.85" y1="393.41" x2="316.05" y2="393.41" stroke="#4a4a4a" stroke-width="1.0"/>
<line x1="55" y1="385.84" x2="57.2" y2="385.84" stroke="#1e1e1e" stroke-width="1.0"/>
<line x1="313.85" y1="385.84" x2="316.05" y2="385.84" stroke="#4a4a4a" stroke-width="1.0"/>
<line x1="55" y1="378.28" x2="57.2" y2="378.28" stroke="#1e1e1e" stroke-width="1.0"/>
<line x1="313.85" y1="378.28" x2="316.05" y2="378.28" stroke="#4a4a4a" stroke-width="1.0"/>
<line x1="55" y1="370.71" x2="57.2" y2="370.71" stroke="#1e1e1e" stroke-width="1.0"/>
<line x1="313.85" y1="370.71" x2="316.05" y2="370.71" stroke="#4a4a4a" stroke-width="1.0"/>
<line x1="54.2" y1="363.14" x2="57.2" y2="363.14" stroke="#1e1e1e" stroke-width="1.2"/>
<line x1="313.85" y1="363.14" x2="316.85" y2="363.14" stroke="#4a4a4a" stroke-width="1.2"/>
<line x1="55" y1="355.57" x2="57.2" y2="355.57" stroke="#1e1e1e" stroke-width="1.0"/>
<line x1="313.85" y1="355.57" x2="316.05" y2="355.57" stroke="#4a4a4a" stroke-width="1.0"/>
<line x1="55" y1="348" x2="57.2" y2="348" stroke="#1e1e1e" stroke-width="1.0"/>
<line x1="313.85" y1="348" x2="316.05" y2="348" stroke="#4a4a4a" stroke-width="1.0"/>
<line x1="55" y1="340.44" x2="57.2" y2="340.44" stroke="#1e1e1e" stroke-width="1.0"/>
<line x1="313.85" y1="340.44" x2="316.05" y2="340.44" stroke="#4a4a4a" stroke-width="1.0"/>
<line x1="55" y1="332.87" x2="57.2" y2="332.87" stroke="#1e1e1e" stroke-width="1.0"/>
<line x1="313.85" y1="332.87" x2="316.05" y2="332.87" stroke="#4a4a4a" stroke-width="1.0"/>
<rect x="74.7" y="512.05" width="16.8" height="2.45" fill="#a0a0a0"/>
<line x1="74.7" y1="511.42" x2="74.7" y2="514.5" stroke="#333" stroke-width="1.25"/>
<line x1="91.5" y1="511.42" x2="91.5" y2="514.5" stroke="#333" stroke-width="1.25"/>
<line x1="74.07" y1="512.05" x2="92.12" y2="512.05" stroke="#333" stroke-width="1.25"/>
<line x1="112.34" y1="508.5" x2="112.34" y2="511.05" stroke="#555" stroke-width="1.2"/>
<line x1="109.74" y1="508.5" x2="114.94" y2="508.5" stroke="#222" stroke-width="1.5"/>
<rect x="103.94" y="511.05" width="16.8" height="3.45" fill="#a0a0a0"/>
<line x1="103.94" y1="510.42" x2="103.94" y2="514.5" stroke="#333" stroke-width="1.25"/>
<line x1="120.74" y1="510.42" x2="120.74" y2="514.5" stroke="#333" stroke-width="1.25"/>
<line x1="103.31" y1="511.05" x2="121.36" y2="511.05" stroke="#333" stroke-width="1.25"/>
<line x1="141.58" y1="442.8" x2="141.58" y2="451.65" stroke="#555" stroke-width="1.2"/>
<line x1="138.98" y1="442.8" x2="144.18" y2="442.8" stroke="#222" stroke-width="1.5"/>
<rect x="133.18" y="451.65" width="16.8" height="62.85" fill="#a0a0a0"/>
<line x1="133.18" y1="451.02" x2="133.18" y2="514.5" stroke="#333" stroke-width="1.25"/>
<line x1="149.98" y1="451.02" x2="149.98" y2="514.5" stroke="#333" stroke-width="1.25"/>
<line x1="132.55" y1="451.65" x2="150.6" y2="451.65" stroke="#333" stroke-width="1.25"/>
<line x1="170.82" y1="376.2" x2="170.82" y2="385.35" stroke="#555" stroke-width="1.2"/>
<line x1="168.22" y1="376.2" x2="173.42" y2="376.2" stroke="#222" stroke-width="1.5"/>
<rect x="162.42" y="385.35" width="16.8" height="129.15" fill="#a0a0a0"/>
<line x1="162.42" y1="384.72" x2="162.42" y2="514.5" stroke="#333" stroke-width="1.25"/>
<line x1="179.22" y1="384.72" x2="179.22" y2="514.5" stroke="#333" stroke-width="1.25"/>
<line x1="161.79" y1="385.35" x2="179.84" y2="385.35" stroke="#333" stroke-width="1.25"/>
<line x1="200.06" y1="415" x2="200.06" y2="420.15" stroke="#555" stroke-width="1.2"/>
<line x1="197.46" y1="415" x2="202.66" y2="415" stroke="#222" stroke-width="1.5"/>
<rect x="191.66" y="420.15" width="16.8" height="94.35" fill="#a0a0a0"/>
<line x1="191.66" y1="419.52" x2="191.66" y2="514.5" stroke="#333" stroke-width="1.25"/>
<line x1="208.46" y1="419.52" x2="208.46" y2="514.5" stroke="#333" stroke-width="1.25"/>
<line x1="191.03" y1="420.15" x2="209.09" y2="420.15" stroke="#333" stroke-width="1.25"/>
<line x1="229.3" y1="501.7" x2="229.3" y2="506.15" stroke="#555" stroke-width="1.2"/>
<line x1="226.7" y1="501.7" x2="231.9" y2="501.7" stroke="#222" stroke-width="1.5"/>
<rect x="220.9" y="506.15" width="16.8" height="8.35" fill="#a0a0a0"/>
<line x1="220.9" y1="505.52" x2="220.9" y2="514.5" stroke="#333" stroke-width="1.25"/>
<line x1="237.7" y1="505.52" x2="237.7" y2="514.5" stroke="#333" stroke-width="1.25"/>
<line x1="220.27" y1="506.15" x2="238.32" y2="506.15" stroke="#333" stroke-width="1.25"/>
<line x1="258.54" y1="505.3" x2="258.54" y2="507.85" stroke="#555" stroke-width="1.2"/>
<line x1="255.94" y1="505.3" x2="261.14" y2="505.3" stroke="#222" stroke-width="1.5"/>
<rect x="250.14" y="507.85" width="16.8" height="6.65" fill="#a0a0a0"/>
<line x1="250.14" y1="507.22" x2="250.14" y2="514.5" stroke="#333" stroke-width="1.25"/>
<line x1="266.94" y1="507.22" x2="266.94" y2="514.5" stroke="#333" stroke-width="1.25"/>
<line x1="249.51" y1="507.85" x2="267.56" y2="507.85" stroke="#333" stroke-width="1.25"/>
<rect x="279.38" y="513.15" width="16.8" height="1.35" fill="#a0a0a0"/>
<line x1="279.38" y1="512.52" x2="279.38" y2="514.5" stroke="#333" stroke-width="1.25"/>
<line x1="296.18" y1="512.52" x2="296.18" y2="514.5" stroke="#333" stroke-width="1.25"/>
<line x1="278.75" y1="513.15" x2="296.8" y2="513.15" stroke="#333" stroke-width="1.25"/>
<line x1="83.1" y1="491.6" x2="83.1" y2="505.4" stroke="#2a2a2a" stroke-width="1.2"/>
<line x1="80.5" y1="491.6" x2="85.7" y2="491.6" stroke="#2a2a2a" stroke-width="1.5"/>
<line x1="83.1" y1="505.4" x2="83.1" y2="514.5" stroke="#2a2a2a" stroke-width="1.2"/>
<line x1="112.34" y1="468.1" x2="112.34" y2="496" stroke="#777" stroke-width="1.2"/>
<line x1="109.74" y1="468.1" x2="114.94" y2="468.1" stroke="#555" stroke-width="1.5"/>
<line x1="112.34" y1="496" x2="112.34" y2="514.5" stroke="#777" stroke-width="1.2"/>
<line x1="141.58" y1="396.6" x2="141.58" y2="410.4" stroke="#888" stroke-width="1.2"/>
<line x1="138.98" y1="396.6" x2="144.18" y2="396.6" stroke="#333" stroke-width="1.5"/>
<line x1="141.58" y1="410.4" x2="141.58" y2="423.5" stroke="#888" stroke-width="1.2"/>
<line x1="138.98" y1="423.5" x2="144.18" y2="423.5" stroke="#333" stroke-width="1.5"/>
<line x1="170.82" y1="397" x2="170.82" y2="410.5" stroke="#7a7a7a" stroke-width="1.2"/>
<line x1="168.22" y1="397" x2="173.42" y2="397" stroke="#555" stroke-width="1.5"/>
<line x1="170.82" y1="410.5" x2="170.82" y2="423.7" stroke="#7a7a7a" stroke-width="1.2"/>
<line x1="168.22" y1="423.7" x2="173.42" y2="423.7" stroke="#555" stroke-width="1.5"/>
<line x1="200.06" y1="415.3" x2="200.06" y2="429.5" stroke="#666" stroke-width="1.2"/>
<line x1="197.46" y1="415.3" x2="202.66" y2="415.3" stroke="#444" stroke-width="1.5"/>
<line x1="200.06" y1="429.5" x2="200.06" y2="442.8" stroke="#666" stroke-width="1.2"/>
<line x1="197.46" y1="442.8" x2="202.66" y2="442.8" stroke="#444" stroke-width="1.5"/>
<line x1="229.3" y1="425.3" x2="229.3" y2="438.7" stroke="#2a2a2a" stroke-width="1.2"/>
<line x1="226.7" y1="425.3" x2="231.9" y2="425.3" stroke="#2a2a2a" stroke-width="1.5"/>
<line x1="229.3" y1="438.7" x2="229.3" y2="452" stroke="#2a2a2a" stroke-width="1.2"/>
<line x1="226.7" y1="452" x2="231.9" y2="452" stroke="#2a2a2a" stroke-width="1.5"/>
<line x1="83.1" y1="505.4" x2="112.34" y2="496" stroke="#1a1a1a" stroke-width="1.1"/>
<line x1="112.34" y1="496" x2="141.58" y2="410.4" stroke="#1a1a1a" stroke-width="1.1"/>
<line x1="141.58" y1="410.4" x2="170.82" y2="410.5" stroke="#1a1a1a" stroke-width="1.1"/>
<line x1="170.82" y1="410.5" x2="200.06" y2="429.5" stroke="#1a1a1a" stroke-width="1.1"/>
<line x1="200.06" y1="429.5" x2="229.3" y2="438.7" stroke="#1a1a1a" stroke-width="1.1"/>
<line x1="229.3" y1="438.7" x2="258.54" y2="514.6" stroke="#1a1a1a" stroke-width="1.1"/>
<line x1="258.54" y1="514.6" x2="287.78" y2="514.6" stroke="#1a1a1a" stroke-width="1.1"/>
<line x1="54.2" y1="325.3" x2="316.85" y2="325.3" stroke="#1e1e1e" stroke-width="1.3"/>
<line x1="54.2" y1="514.5" x2="316.85" y2="514.5" stroke="#1e1e1e" stroke-width="1.4"/>
<line x1="57.2" y1="324.7" x2="57.2" y2="515.1" stroke="#1e1e1e" stroke-width="1.6"/>
<line x1="313.85" y1="324.7" x2="313.85" y2="515.1" stroke="#7a7a7a" stroke-width="1.3"/>
<line x1="83.1" y1="514.5" x2="83.1" y2="517.5" stroke="#1e1e1e" stroke-width="1.2"/>
<line x1="112.34" y1="514.5" x2="112.34" y2="517.5" stroke="#1e1e1e" stroke-width="1.2"/>
<line x1="141.58" y1="514.5" x2="141.58" y2="517.5" stroke="#1e1e1e" stroke-width="1.2"/>
<line x1="170.82" y1="514.5" x2="170.82" y2="517.5" stroke="#1e1e1e" stroke-width="1.2"/>
<line x1="200.06" y1="514.5" x2="200.06" y2="517.5" stroke="#1e1e1e" stroke-width="1.2"/>
<line x1="229.3" y1="514.5" x2="229.3" y2="517.5" stroke="#1e1e1e" stroke-width="1.2"/>
<line x1="258.54" y1="514.5" x2="258.54" y2="517.5" stroke="#1e1e1e" stroke-width="1.2"/>
<line x1="287.78" y1="514.5" x2="287.78" y2="517.5" stroke="#1e1e1e" stroke-width="1.2"/>
<circle cx="83.1" cy="505.4" r="3.0" fill="#fff" stroke="#1e1e1e" stroke-width="1.2"/>
<circle cx="112.34" cy="496" r="3.0" fill="#fff" stroke="#1e1e1e" stroke-width="1.2"/>
<circle cx="141.58" cy="410.4" r="3.0" fill="#fff" stroke="#1e1e1e" stroke-width="1.2"/>
<circle cx="170.82" cy="410.5" r="3.0" fill="#fff" stroke="#1e1e1e" stroke-width="1.2"/>
<circle cx="200.06" cy="429.5" r="3.0" fill="#fff" stroke="#1e1e1e" stroke-width="1.2"/>
<circle cx="229.3" cy="438.7" r="3.0" fill="#fff" stroke="#1e1e1e" stroke-width="1.2"/>
<circle cx="258.54" cy="514.6" r="3.0" fill="#fff" stroke="#1e1e1e" stroke-width="1.2"/>
<circle cx="287.78" cy="514.6" r="3.0" fill="#fff" stroke="#1e1e1e" stroke-width="1.2"/>
<text transform="translate(52.7,520.82) scale(0.952,1)" font-size="15.5" text-anchor="end" >0</text>
<text transform="translate(321.15,520.07) scale(0.952,1)" font-size="15.5" text-anchor="start" >0</text>
<text transform="translate(52.7,482.09) scale(0.952,1)" font-size="15.5" text-anchor="end" >20</text>
<text transform="translate(321.15,482.09) scale(0.952,1)" font-size="15.5" text-anchor="start" >200</text>
<text transform="translate(52.7,444.25) scale(0.952,1)" font-size="15.5" text-anchor="end" >40</text>
<text transform="translate(321.15,444.25) scale(0.952,1)" font-size="15.5" text-anchor="start" >400</text>
<text transform="translate(52.7,406.41) scale(0.952,1)" font-size="15.5" text-anchor="end" >60</text>
<text transform="translate(321.15,406.41) scale(0.952,1)" font-size="15.5" text-anchor="start" >600</text>
<text transform="translate(52.7,368.56) scale(0.952,1)" font-size="15.5" text-anchor="end" >80</text>
<text transform="translate(321.15,368.56) scale(0.952,1)" font-size="15.5" text-anchor="start" >800</text>
<text transform="translate(28.08,330.23) scale(0.952,1)" font-size="15.5"><tspan class="h">1</tspan>00</text>
<path d="M560,0L560,1237L223,1010L223,1180L575,1409L741,1409L741,0Z" stroke="#1a1a1a" stroke-width="29.1" transform="translate(28.08,330.23) scale(0.007205,-0.007568)"/>
<text transform="translate(321.15,330.43) scale(0.952,1)" font-size="15.5"><tspan class="h">1</tspan>000</text>
<path d="M560,0L560,1237L223,1010L223,1180L575,1409L741,1409L741,0Z" stroke="#1a1a1a" stroke-width="29.1" transform="translate(321.15,330.43) scale(0.007205,-0.007568)"/>
<text transform="translate(83.1,533.8) scale(0.952,1)" font-size="15.5" text-anchor="middle" >5</text>
<text transform="translate(112.34,533.8) scale(0.952,1)" font-size="15.5" text-anchor="middle" >6</text>
<text transform="translate(141.58,533.8) scale(0.952,1)" font-size="15.5" text-anchor="middle" >7</text>
<text transform="translate(170.82,533.8) scale(0.952,1)" font-size="15.5" text-anchor="middle" >8</text>
<text transform="translate(200.06,533.8) scale(0.952,1)" font-size="15.5" text-anchor="middle" >9</text>
<text transform="translate(221.09,533.8) scale(0.952,1)" font-size="15.5"><tspan class="h">1</tspan>0</text>
<path d="M560,0L560,1237L223,1010L223,1180L575,1409L741,1409L741,0Z" stroke="#1a1a1a" stroke-width="29.1" transform="translate(221.09,533.8) scale(0.007205,-0.007568)"/>
<text transform="translate(250.33,533.8) scale(0.952,1)" font-size="15.5"><tspan class="h">1</tspan><tspan class="h">1</tspan></text>
<path d="M560,0L560,1237L223,1010L223,1180L575,1409L741,1409L741,0Z" stroke="#1a1a1a" stroke-width="29.1" transform="translate(250.33,533.8) scale(0.007205,-0.007568)"/>
<path d="M560,0L560,1237L223,1010L223,1180L575,1409L741,1409L741,0Z" stroke="#1a1a1a" stroke-width="29.1" transform="translate(258.54,533.8) scale(0.007205,-0.007568)"/>
<text transform="translate(279.57,533.8) scale(0.952,1)" font-size="15.5"><tspan class="h">1</tspan>2</text>
<path d="M560,0L560,1237L223,1010L223,1180L575,1409L741,1409L741,0Z" stroke="#1a1a1a" stroke-width="29.1" transform="translate(279.57,533.8) scale(0.007205,-0.007568)"/>
<line x1="396.2" y1="506.84" x2="398.4" y2="506.84" stroke="#1e1e1e" stroke-width="1.0"/>
<line x1="654.6" y1="506.84" x2="656.8" y2="506.84" stroke="#1e1e1e" stroke-width="1.0"/>
<line x1="396.2" y1="499.27" x2="398.4" y2="499.27" stroke="#1e1e1e" stroke-width="1.0"/>
<line x1="654.6" y1="499.27" x2="656.8" y2="499.27" stroke="#1e1e1e" stroke-width="1.0"/>
<line x1="396.2" y1="491.71" x2="398.4" y2="491.71" stroke="#1e1e1e" stroke-width="1.0"/>
<line x1="654.6" y1="491.71" x2="656.8" y2="491.71" stroke="#1e1e1e" stroke-width="1.0"/>
<line x1="396.2" y1="484.14" x2="398.4" y2="484.14" stroke="#1e1e1e" stroke-width="1.0"/>
<line x1="654.6" y1="484.14" x2="656.8" y2="484.14" stroke="#1e1e1e" stroke-width="1.0"/>
<line x1="395.4" y1="476.58" x2="398.4" y2="476.58" stroke="#1e1e1e" stroke-width="1.2"/>
<line x1="654.6" y1="476.58" x2="657.6" y2="476.58" stroke="#1e1e1e" stroke-width="1.2"/>
<line x1="396.2" y1="469.02" x2="398.4" y2="469.02" stroke="#1e1e1e" stroke-width="1.0"/>
<line x1="654.6" y1="469.02" x2="656.8" y2="469.02" stroke="#1e1e1e" stroke-width="1.0"/>
<line x1="396.2" y1="461.45" x2="398.4" y2="461.45" stroke="#1e1e1e" stroke-width="1.0"/>
<line x1="654.6" y1="461.45" x2="656.8" y2="461.45" stroke="#1e1e1e" stroke-width="1.0"/>
<line x1="396.2" y1="453.89" x2="398.4" y2="453.89" stroke="#1e1e1e" stroke-width="1.0"/>
<line x1="654.6" y1="453.89" x2="656.8" y2="453.89" stroke="#1e1e1e" stroke-width="1.0"/>
<line x1="396.2" y1="446.32" x2="398.4" y2="446.32" stroke="#1e1e1e" stroke-width="1.0"/>
<line x1="654.6" y1="446.32" x2="656.8" y2="446.32" stroke="#1e1e1e" stroke-width="1.0"/>
<line x1="395.4" y1="438.76" x2="398.4" y2="438.76" stroke="#1e1e1e" stroke-width="1.2"/>
<line x1="654.6" y1="438.76" x2="657.6" y2="438.76" stroke="#1e1e1e" stroke-width="1.2"/>
<line x1="396.2" y1="431.2" x2="398.4" y2="431.2" stroke="#1e1e1e" stroke-width="1.0"/>
<line x1="654.6" y1="431.2" x2="656.8" y2="431.2" stroke="#1e1e1e" stroke-width="1.0"/>
<line x1="396.2" y1="423.63" x2="398.4" y2="423.63" stroke="#1e1e1e" stroke-width="1.0"/>
<line x1="654.6" y1="423.63" x2="656.8" y2="423.63" stroke="#1e1e1e" stroke-width="1.0"/>
<line x1="396.2" y1="416.07" x2="398.4" y2="416.07" stroke="#1e1e1e" stroke-width="1.0"/>
<line x1="654.6" y1="416.07" x2="656.8" y2="416.07" stroke="#1e1e1e" stroke-width="1.0"/>
<line x1="396.2" y1="408.5" x2="398.4" y2="408.5" stroke="#1e1e1e" stroke-width="1.0"/>
<line x1="654.6" y1="408.5" x2="656.8" y2="408.5" stroke="#1e1e1e" stroke-width="1.0"/>
<line x1="395.4" y1="400.94" x2="398.4" y2="400.94" stroke="#1e1e1e" stroke-width="1.2"/>
<line x1="654.6" y1="400.94" x2="657.6" y2="400.94" stroke="#1e1e1e" stroke-width="1.2"/>
<line x1="396.2" y1="393.38" x2="398.4" y2="393.38" stroke="#1e1e1e" stroke-width="1.0"/>
<line x1="654.6" y1="393.38" x2="656.8" y2="393.38" stroke="#1e1e1e" stroke-width="1.0"/>
<line x1="396.2" y1="385.81" x2="398.4" y2="385.81" stroke="#1e1e1e" stroke-width="1.0"/>
<line x1="654.6" y1="385.81" x2="656.8" y2="385.81" stroke="#1e1e1e" stroke-width="1.0"/>
<line x1="396.2" y1="378.25" x2="398.4" y2="378.25" stroke="#1e1e1e" stroke-width="1.0"/>
<line x1="654.6" y1="378.25" x2="656.8" y2="378.25" stroke="#1e1e1e" stroke-width="1.0"/>
<line x1="396.2" y1="370.68" x2="398.4" y2="370.68" stroke="#1e1e1e" stroke-width="1.0"/>
<line x1="654.6" y1="370.68" x2="656.8" y2="370.68" stroke="#1e1e1e" stroke-width="1.0"/>
<line x1="395.4" y1="363.12" x2="398.4" y2="363.12" stroke="#1e1e1e" stroke-width="1.2"/>
<line x1="654.6" y1="363.12" x2="657.6" y2="363.12" stroke="#1e1e1e" stroke-width="1.2"/>
<line x1="396.2" y1="355.56" x2="398.4" y2="355.56" stroke="#1e1e1e" stroke-width="1.0"/>
<line x1="654.6" y1="355.56" x2="656.8" y2="355.56" stroke="#1e1e1e" stroke-width="1.0"/>
<line x1="396.2" y1="347.99" x2="398.4" y2="347.99" stroke="#1e1e1e" stroke-width="1.0"/>
<line x1="654.6" y1="347.99" x2="656.8" y2="347.99" stroke="#1e1e1e" stroke-width="1.0"/>
<line x1="396.2" y1="340.43" x2="398.4" y2="340.43" stroke="#1e1e1e" stroke-width="1.0"/>
<line x1="654.6" y1="340.43" x2="656.8" y2="340.43" stroke="#1e1e1e" stroke-width="1.0"/>
<line x1="396.2" y1="332.86" x2="398.4" y2="332.86" stroke="#1e1e1e" stroke-width="1.0"/>
<line x1="654.6" y1="332.86" x2="656.8" y2="332.86" stroke="#1e1e1e" stroke-width="1.0"/>
<line x1="526.5" y1="425.8" x2="526.5" y2="430.95" stroke="#333" stroke-width="1.2"/>
<line x1="523.5" y1="425.8" x2="529.5" y2="425.8" stroke="#222" stroke-width="1.5"/>
<rect x="513.85" y="430.95" width="25.3" height="83.45" fill="#a0a0a0"/>
<line x1="513.85" y1="430.32" x2="513.85" y2="514.4" stroke="#262626" stroke-width="1.25"/>
<line x1="539.15" y1="430.32" x2="539.15" y2="514.4" stroke="#262626" stroke-width="1.25"/>
<line x1="513.23" y1="430.95" x2="539.77" y2="430.95" stroke="#262626" stroke-width="1.25"/>
<line x1="569.3" y1="442.5" x2="569.3" y2="449.55" stroke="#333" stroke-width="1.2"/>
<line x1="566.3" y1="442.5" x2="572.3" y2="442.5" stroke="#222" stroke-width="1.5"/>
<rect x="556.65" y="449.55" width="25.3" height="64.85" fill="#a0a0a0"/>
<line x1="556.65" y1="448.92" x2="556.65" y2="514.4" stroke="#262626" stroke-width="1.25"/>
<line x1="581.95" y1="448.92" x2="581.95" y2="514.4" stroke="#262626" stroke-width="1.25"/>
<line x1="556.02" y1="449.55" x2="582.57" y2="449.55" stroke="#262626" stroke-width="1.25"/>
<line x1="612.1" y1="365.5" x2="612.1" y2="376.95" stroke="#333" stroke-width="1.2"/>
<line x1="609.1" y1="365.5" x2="615.1" y2="365.5" stroke="#222" stroke-width="1.5"/>
<rect x="599.45" y="376.95" width="25.3" height="137.45" fill="#a0a0a0"/>
<line x1="599.45" y1="376.32" x2="599.45" y2="514.4" stroke="#5a5a5a" stroke-width="1.25"/>
<line x1="624.75" y1="376.32" x2="624.75" y2="514.4" stroke="#5a5a5a" stroke-width="1.25"/>
<line x1="598.82" y1="376.95" x2="625.37" y2="376.95" stroke="#5a5a5a" stroke-width="1.25"/>
<line x1="526.5" y1="393" x2="526.5" y2="419.7" stroke="#2a2a2a" stroke-width="1.2"/>
<line x1="523.5" y1="393" x2="529.5" y2="393" stroke="#2a2a2a" stroke-width="1.5"/>
<line x1="526.5" y1="419.7" x2="526.5" y2="446.3" stroke="#2a2a2a" stroke-width="1.2"/>
<line x1="523.5" y1="446.3" x2="529.5" y2="446.3" stroke="#2a2a2a" stroke-width="1.5"/>
<line x1="569.3" y1="453.6" x2="569.3" y2="467.3" stroke="#2a2a2a" stroke-width="1.2"/>
<line x1="566.3" y1="453.6" x2="572.3" y2="453.6" stroke="#2a2a2a" stroke-width="1.5"/>
<line x1="569.3" y1="467.3" x2="569.3" y2="480.1" stroke="#2a2a2a" stroke-width="1.2"/>
<line x1="566.3" y1="480.1" x2="572.3" y2="480.1" stroke="#2a2a2a" stroke-width="1.5"/>
<line x1="612.1" y1="397.2" x2="612.1" y2="410.3" stroke="#808080" stroke-width="1.2"/>
<line x1="609.1" y1="397.2" x2="615.1" y2="397.2" stroke="#777" stroke-width="1.5"/>
<line x1="612.1" y1="410.3" x2="612.1" y2="423.3" stroke="#808080" stroke-width="1.2"/>
<line x1="609.1" y1="423.3" x2="615.1" y2="423.3" stroke="#777" stroke-width="1.5"/>
<line x1="395.4" y1="325.3" x2="657.6" y2="325.3" stroke="#1e1e1e" stroke-width="1.3"/>
<line x1="395.4" y1="514.4" x2="657.6" y2="514.4" stroke="#1e1e1e" stroke-width="1.4"/>
<line x1="398.4" y1="324.7" x2="398.4" y2="515" stroke="#1e1e1e" stroke-width="1.3"/>
<line x1="654.6" y1="324.7" x2="654.6" y2="515" stroke="#1e1e1e" stroke-width="1.3"/>
<line x1="440.9" y1="514.4" x2="440.9" y2="517.4" stroke="#1e1e1e" stroke-width="1.2"/>
<line x1="483.7" y1="514.4" x2="483.7" y2="517.4" stroke="#1e1e1e" stroke-width="1.2"/>
<line x1="526.5" y1="514.4" x2="526.5" y2="517.4" stroke="#1e1e1e" stroke-width="1.2"/>
<line x1="569.3" y1="514.4" x2="569.3" y2="517.4" stroke="#1e1e1e" stroke-width="1.2"/>
<line x1="612.1" y1="514.4" x2="612.1" y2="517.4" stroke="#1e1e1e" stroke-width="1.2"/>
<circle cx="440.9" cy="514.4" r="3.0" fill="#fff" stroke="#1e1e1e" stroke-width="1.2"/>
<circle cx="483.7" cy="495.5" r="3.0" fill="#fff" stroke="#1e1e1e" stroke-width="1.2"/>
<circle cx="526.5" cy="419.7" r="3.0" fill="#fff" stroke="#1e1e1e" stroke-width="1.2"/>
<circle cx="569.3" cy="467.3" r="3.0" fill="#fff" stroke="#1e1e1e" stroke-width="1.2"/>
<circle cx="612.1" cy="410.3" r="3.0" fill="#fff" stroke="#1e1e1e" stroke-width="1.2"/>
<text transform="translate(392.1,521.02) scale(0.952,1)" font-size="15.5" text-anchor="end" >0</text>
<text transform="translate(661.9,520.72) scale(0.952,1)" font-size="15.5" text-anchor="start" >0</text>
<text transform="translate(392.1,482) scale(0.952,1)" font-size="15.5" text-anchor="end" >20</text>
<text transform="translate(661.9,482) scale(0.952,1)" font-size="15.5"><tspan class="h">1</tspan>00</text>
<path d="M560,0L560,1237L223,1010L223,1180L575,1409L741,1409L741,0Z" stroke="#1a1a1a" stroke-width="29.1" transform="translate(661.9,482) scale(0.007205,-0.007568)"/>
<text transform="translate(392.1,444.19) scale(0.952,1)" font-size="15.5" text-anchor="end" >40</text>
<text transform="translate(661.9,444.19) scale(0.952,1)" font-size="15.5" text-anchor="start" >200</text>
<text transform="translate(392.1,406.37) scale(0.952,1)" font-size="15.5" text-anchor="end" >60</text>
<text transform="translate(661.9,406.37) scale(0.952,1)" font-size="15.5" text-anchor="start" >300</text>
<text transform="translate(392.1,368.55) scale(0.952,1)" font-size="15.5" text-anchor="end" >80</text>
<text transform="translate(661.9,368.55) scale(0.952,1)" font-size="15.5" text-anchor="start" >400</text>
<text transform="translate(367.48,330.83) scale(0.952,1)" font-size="15.5"><tspan class="h">1</tspan>00</text>
<path d="M560,0L560,1237L223,1010L223,1180L575,1409L741,1409L741,0Z" stroke="#1a1a1a" stroke-width="29.1" transform="translate(367.48,330.83) scale(0.007205,-0.007568)"/>
<text transform="translate(661.9,328.83) scale(0.952,1)" font-size="15.5" text-anchor="start" >500</text>
<text transform="translate(440.4,533.5) scale(0.8,1)" font-size="15.5" text-anchor="middle">D.W</text>
<text transform="translate(483.4,533.5) scale(0.8,1)" font-size="15.5" text-anchor="middle">-N -P</text>
<text transform="translate(526,533.5) scale(0.79,1)" font-size="15.5" text-anchor="middle">+N -P</text>
<text transform="translate(568.6,533.5) scale(0.815,1)" font-size="15.5" text-anchor="middle">-N +P</text>
<text transform="translate(611,533.5) scale(0.79,1)" font-size="15.5" text-anchor="middle">+N +P</text>
<text transform="translate(12,21.2) scale(0.94,1)" font-size="26.5" text-anchor="start" >a</text>
<text x="353.4" y="20.2" font-size="27.3" text-anchor="start" >b</text>
<text transform="translate(12,311.8) scale(1.04,1)" font-size="28.2" text-anchor="start" >c</text>
<text transform="translate(354.2,310.2) scale(1.03,1)" font-size="27" text-anchor="start" >d</text>
<text transform="translate(131.3,268.8) scale(0.925,1)" font-size="16.0">Temperature (<tspan font-size="10.56" dy="-7.1">o</tspan><tspan dy="7.1">C)</tspan></text>
<text transform="translate(477.3,269.2) scale(0.925,1)" font-size="16.0">Temperature (<tspan font-size="10.56" dy="-7.1">o</tspan><tspan dy="7.1">C)</tspan></text>
<text transform="translate(187.5,550) scale(0.925,1)" font-size="16" text-anchor="middle" >pH</text>
<text transform="translate(11.8,130.3) rotate(-90) scale(0.94,1)" font-size="16.1" text-anchor="middle"><tspan font-style="italic">Dolichospermum</tspan> akinete</text>
<text transform="translate(28.2,131.0) rotate(-90) scale(0.94,1)" font-size="16.1" text-anchor="middle">germination rate (%)</text>
<text transform="translate(11.8,418.8) rotate(-90) scale(0.94,1)" font-size="16.1" text-anchor="middle"><tspan font-style="italic">Dolichospermum</tspan> akinete</text>
<text transform="translate(28.2,419.5) rotate(-90) scale(0.94,1)" font-size="16.1" text-anchor="middle">germination rate (%)</text>
<text transform="translate(696.3,131.3) rotate(90) scale(0.94,1)" font-size="16.0" text-anchor="middle"><tspan font-style="italic">Microcystis</tspan> cell growth rate (%)</text>
<text transform="translate(696.3,420.6) rotate(90) scale(0.94,1)" font-size="16.0" text-anchor="middle"><tspan font-style="italic">Microcystis</tspan> cell growth rate (%)</text>
<rect x="72.6" y="54.8" width="18.8" height="5.5" fill="#a0a0a0" stroke="#2a2a2a" stroke-width="1.1"/>
<line x1="72" y1="68.3" x2="92" y2="68.3" stroke="#222" stroke-width="1.2"/>
<circle cx="82.3" cy="68.3" r="2.9" fill="#fff" stroke="#222" stroke-width="1.1"/>
<text transform="translate(97.3,60.6) scale(0.90,1)" font-size="9.6" font-weight="bold"><tspan font-style="italic">Microcystis</tspan> cell</text>
<text transform="translate(97.3,71.7) scale(0.90,1)" font-size="9.6" font-weight="bold"><tspan font-style="italic">Dolichospermum</tspan> akinete</text>
</svg>
</body></html>
